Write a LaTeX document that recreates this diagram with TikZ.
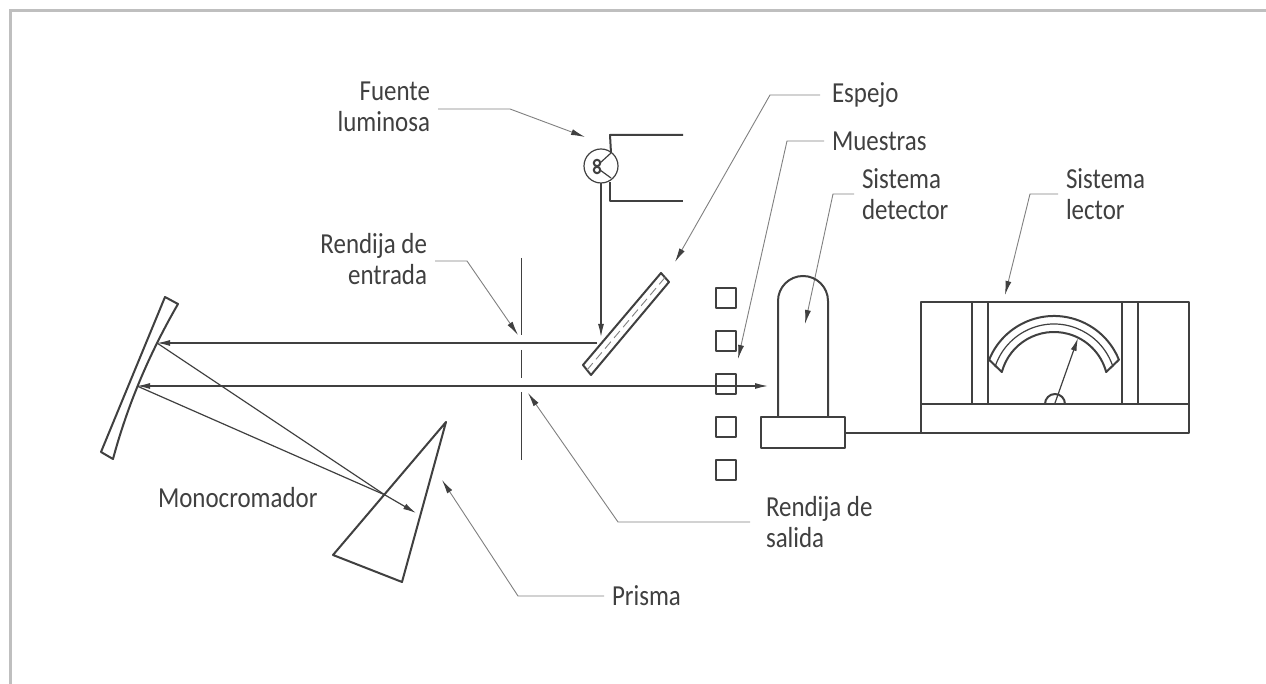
\documentclass[tikz,border=0pt]{standalone}
\usepackage{xcolor}
\usepackage{fontspec}
\setmainfont[FakeStretch=0.86]{Carlito}
\usetikzlibrary{arrows.meta}
\definecolor{drawColor}{gray}{0.25}
\definecolor{leaderColor}{gray}{0.50}
\definecolor{textColor}{gray}{0.25}
\definecolor{frameColor}{gray}{0.75}
\tikzset{
  part/.style={draw=drawColor,line width=2pt,line join=round},
  ray/.style={draw=drawColor,line width=1.2pt,line join=round},
  leader/.style={draw=leaderColor,line width=0.9pt,line join=round,
    -{Latex[length=14pt,width=6pt,color=drawColor]}},
  beamtip/.style={-{Latex[length=13pt,width=6pt,color=drawColor]}},
  label/.style={text=textColor,inner sep=0pt,outer sep=8pt,font=\fontsize{29}{30.5}\selectfont},
  sample/.style={part,minimum size=20pt,inner sep=0pt,outer sep=0pt},
  block/.style={part,inner sep=0pt,outer sep=0pt}
}
\begin{document}
\begin{tikzpicture}[x=1pt,y=1pt]
\path[use as bounding box,fill=white] (0,0) rectangle (1266,684);
\path[draw=frameColor,line width=3pt,line join=miter] (10,0) -- (10,673) -- (1266,673);

% labels
\node[label,anchor=east,align=right] (fuenteLbl) at (438,577) {Fuente\\luminosa};
\node[label,anchor=east,align=right] (entradaLbl) at (435,425) {Rendija de\\entrada};
\node[label,anchor=west] (espejoLbl) at (824,589) {Espejo};
\node[label,anchor=west] (muestrasLbl) at (824,543) {Muestras};
\node[label,anchor=west,align=left] (detectorLbl) at (854,490) {Sistema\\detector};
\node[label,anchor=west,align=left] (lectorLbl) at (1058,490) {Sistema\\lector};
\node[label,anchor=west,align=left] (salidaLbl) at (758,162) {Rendija de\\salida};
\node[label,anchor=west] (prismaLbl) at (604,88) {Prisma};
\node[label,anchor=west] (monoLbl) at (150,186) {Monocromador};

% leader tips
\coordinate (fuenteTip) at (585,547);
\coordinate (entradaTip) at (518,349);
\coordinate (espejoTip) at (675,422);
\coordinate (muestrasTip) at (738,325);
\coordinate (detectorTip) at (805,360);
\coordinate (lectorTip) at (1005,389);
\coordinate (salidaTip) at (528,291);
\coordinate (prismaTip) at (442,204);

\path[leader] ([yshift=-2pt]fuenteLbl.east) -- (510,575) -- (fuenteTip);
\path[leader] ([yshift=-2pt]entradaLbl.east) -- (467,423) -- (entradaTip);
\path[leader] ([xshift=-4pt]espejoLbl.west) -- (770,589) -- (espejoTip);
\path[leader] (muestrasLbl.west) -- (787,543) -- (muestrasTip);
\path[leader] (detectorLbl.west) -- (833,490) -- (detectorTip);
\path[leader] (lectorLbl.west) -- (1030,490) -- (lectorTip);
\path[leader] ([xshift=-8pt]salidaLbl.west) -- (618,162) -- (salidaTip);
\path[leader] (prismaLbl.west) -- (518,88) -- (prismaTip);

% curved mirror
\path[part] (165,387) -- (101,232) -- (113,225) .. controls (127,277) and (148,328) .. (178,380) -- cycle;

% prism
\path[part] (446,262) -- (333,129) -- (402,102) -- cycle;

% entrance and exit slit
\path[ray] (521.5,426) -- (521.5,349);
\path[ray] (521.5,334) -- (521.5,306);
\path[ray] (521.5,292) -- (521.5,224);

% beams
\coordinate (gratingHi) at (157,341);
\coordinate (gratingLo) at (137,298);
\coordinate (prismaIn) at (385,189);
\coordinate (prismaEnd) at (416,171);
\coordinate (mirrorHit) at (597,341);
\coordinate (mirrorTop) at (601,347);
\coordinate (detectorIn) at (768,298);
\path[ray,beamtip] (mirrorHit) -- (gratingHi);
\path[ray,{Latex[length=13pt,width=6pt,color=drawColor]}-{Latex[length=13pt,width=6pt,color=drawColor]}] (gratingLo) -- (detectorIn);
\path[ray] (gratingLo) -- (prismaIn);
\path[ray,beamtip] (gratingHi) -- (prismaIn) -- (prismaEnd);

% lamp
\node[draw=drawColor,line width=1.2pt,circle,minimum size=34pt,inner sep=0pt,outer sep=0pt] (lamp) at (601,518) {};
\path[part] (611,531) -- (610,549) -- (683,549);
\path[part] (610,502) -- (610,483) -- (683,483);
\path[ray] (611,531) -- (600,521);
\path[ray] (611,506) -- (600,514);
\path[draw=drawColor,line width=2pt] (597,521) circle (3.2);
\path[draw=drawColor,line width=2pt] (597,514) circle (3.2);
\path[ray,beamtip] (lamp.south) -- (mirrorTop);

% flat mirror
\path[part] (661,411) -- (669,402) -- (591,309) -- (583,319) -- cycle;
\path[draw=leaderColor,line width=0.9pt,dash pattern=on 9pt off 5pt] (665,406.5) -- (587,314);

% samples
\node[sample] (sampleA) at (726,386) {};
\node[sample] (sampleB) at (726,343) {};
\node[sample] (sampleC) at (726,300) {};
\node[sample] (sampleD) at (726,257) {};
\node[sample] (sampleE) at (726,214) {};

% detector
\path[part] (778,266) -- (778,383) arc (180:0:25) -- (828,266);
\node[block,draw,minimum width=84pt,minimum height=31pt] (detectorBase) at (803,251) {};

% reader
\node[block,draw,minimum width=268pt,minimum height=102pt] (lectorTop) at (1055,331) {};
\node[block,draw,minimum width=268pt,minimum height=29pt] (lectorBase) at (1055,265.5) {};
\path[part] (detectorBase.east) -- (lectorBase.south west);
\path[part] (972,280) -- (972,382);
\path[part] (988,280) -- (988,382);
\path[part] (1122,280) -- (1122,382);
\path[part] (1138,280) -- (1138,382);

% scale and needle
\coordinate (meterCentre) at (1054,298);
\coordinate (needleTip) at (1078,346);
\path[part] ([shift={(22:70)}]meterCentre) arc (22:158:70) -- ([shift={(165:54)}]meterCentre) arc (165:15:54) -- cycle;
\path[draw=drawColor,line width=1.2pt] ([shift={(18:62)}]meterCentre) arc (18:162:62);
\path[part] (1045,280) arc (180:0:10);
\path[ray,beamtip] (1055,281) -- (needleTip);
\end{tikzpicture}
\end{document}
